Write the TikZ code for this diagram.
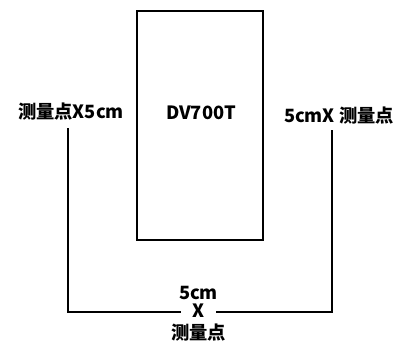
\documentclass[tikz,border=0pt]{standalone}
\usepackage{fontspec}
\setmainfont{Noto Sans CJK SC}
\usepackage{tikz}
\usetikzlibrary{positioning,calc}

\begin{document}
\begin{tikzpicture}[x=0.025cm,y=-0.025cm,
        devbox/.style={draw,line width=1.2pt,minimum width=3.15cm,minimum height=5.72cm,inner sep=0pt},
        lbl/.style={font=\fontsize{13}{15}\selectfont\bfseries,inner sep=1pt},
        wire/.style={line width=1.1pt}
      ]
        \useasboundingbox (0,0) rectangle (397,341);
        \node[devbox] (dev) at (200,125.5) {};
        \node[lbl] (name) at (201,113) {DV700T};
        \node[lbl] (lft) at (71,112) {测量点X5cm};
        \node[lbl] (rgt) at (339,116) {5cmX 测量点};
        \node[lbl,inner xsep=8pt] (xm) at (198.5,311) {X};
        \node[lbl,above=1pt of xm] (dist) {5cm};
        \node[lbl,below=2pt of xm] (pt) {测量点};
        \coordinate (lc) at (68,312);
        \coordinate (rc) at (332,312);
        \draw[wire] ($(lft.south -| lc)+(0,6)$) -- (lc) -- (xm.west |- lc);
        \draw[wire] ($(rgt.south -| rc)+(0,4)$) -- (rc) -- (xm.east |- rc);
      \end{tikzpicture}
\end{document}
